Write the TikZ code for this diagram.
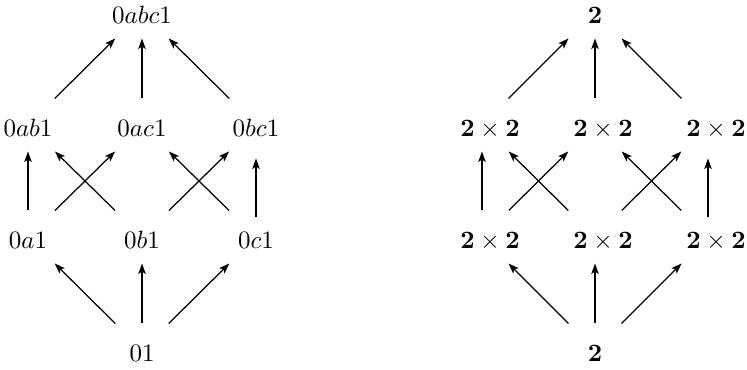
\documentclass[tikz,border=0pt]{standalone}
\usetikzlibrary{arrows.meta}
\begin{document}
\begin{tikzpicture}[x=0.4pt,y=-0.4pt,
  entry/.style={anchor=base, inner xsep=0pt, inner ysep=0pt,
    text height=15.2pt, text depth=5.6pt, minimum width=24pt},
  arr/.style={line width=0.5pt, -{Stealth[length=4.2pt,width=3pt,inset=1pt]}},
  lowarr/.style={arr, shorten <=-2.8pt, shorten >=2.8pt}]
\useasboundingbox (0,0) rectangle (747,370);
% left lattice
\node[entry] (L0)  at (142,24)  {$0abc1$};
\node[entry] (Lab) at (28,137)  {$0ab1$};
\node[entry] (Lac) at (142,137) {$0ac1$};
\node[entry] (Lbc) at (256,137) {$0bc1$};
\node[entry] (La)  at (28,249)  {$0a1$};
\node[entry] (Lb)  at (142,249) {$0b1$};
\node[entry] (Lc)  at (256,249) {$0c1$};
\node[entry] (L1)  at (142,362) {$01$};
\draw[arr] (Lab) -- (L0);
\draw[arr] (Lac) -- (L0);
\draw[arr] (Lbc) -- (L0);
\draw[arr] (La) -- (Lab);
\draw[arr] (La) -- (Lac);
\draw[arr] (Lb) -- (Lab);
\draw[arr] (Lb) -- (Lbc);
\draw[arr] (Lc) -- (Lac);
\draw[lowarr] (Lc) -- (Lbc);
\draw[arr] (L1) -- (La);
\draw[arr] (L1) -- (Lb);
\draw[arr] (L1) -- (Lc);
% right lattice
\node[entry] (R0)  at (595,24)  {$\mathbf{2}$};
\node[entry] (Rab) at (482,137) {\hspace*{6.4pt}$\mathbf{2}\times\mathbf{2}$};
\node[entry] (Rac) at (595,137) {\hspace*{6.4pt}$\mathbf{2}\times\mathbf{2}$};
\node[entry] (Rbc) at (708,137) {\hspace*{6.4pt}$\mathbf{2}\times\mathbf{2}$};
\node[entry] (Ra)  at (482,249) {\hspace*{6.4pt}$\mathbf{2}\times\mathbf{2}$};
\node[entry] (Rb)  at (595,249) {\hspace*{6.4pt}$\mathbf{2}\times\mathbf{2}$};
\node[entry] (Rc)  at (708,249) {\hspace*{6.4pt}$\mathbf{2}\times\mathbf{2}$};
\node[entry] (R1)  at (595,362) {$\mathbf{2}$};
\draw[arr] (Rab) -- (R0);
\draw[arr] (Rac) -- (R0);
\draw[arr] (Rbc) -- (R0);
\draw[arr] (Ra) -- (Rab);
\draw[arr] (Ra) -- (Rac);
\draw[arr] (Rb) -- (Rab);
\draw[arr] (Rb) -- (Rbc);
\draw[arr] (Rc) -- (Rac);
\draw[lowarr] (Rc) -- (Rbc);
\draw[arr] (R1) -- (Ra);
\draw[arr] (R1) -- (Rb);
\draw[arr] (R1) -- (Rc);
\end{tikzpicture}
\end{document}
